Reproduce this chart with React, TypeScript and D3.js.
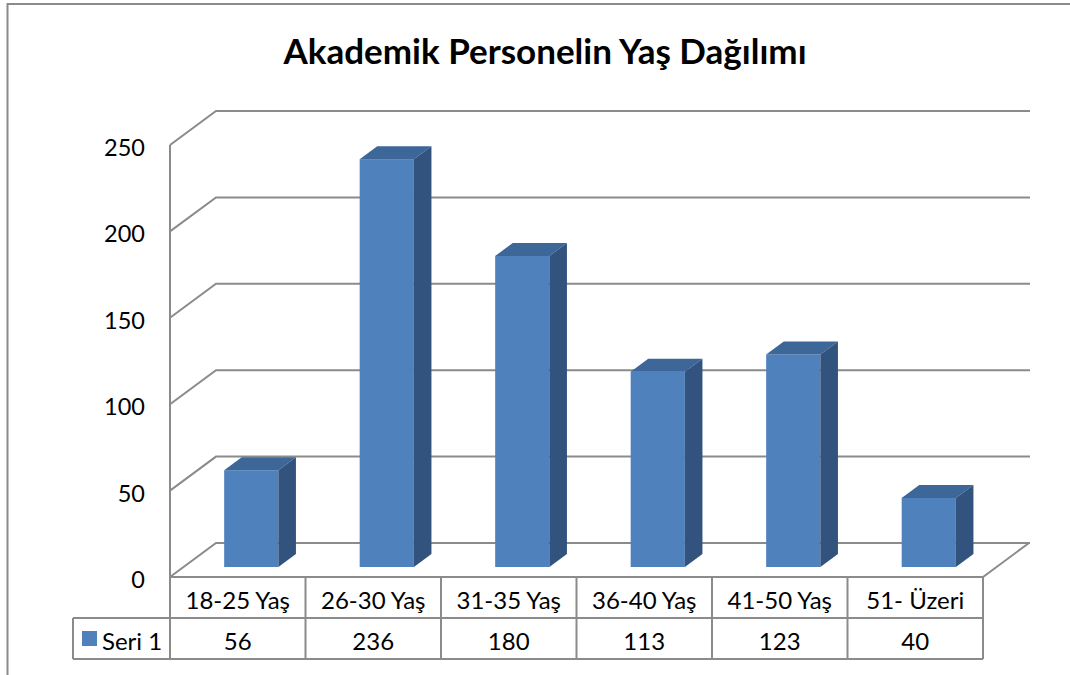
import React from 'react';
import * as d3 from 'd3';

const title = 'Akademik Personelin Yaş Dağılımı';
const categories = ['18-25 Yaş', '26-30 Yaş', '31-35 Yaş', '36-40 Yaş', '41-50 Yaş', '51- Üzeri'];
const seriesName = 'Seri 1';
const values = [56, 236, 180, 113, 123, 40];
const yTicks = [0, 50, 100, 150, 200, 250];

const W = 1070;
const H = 675;
const font = 'Lato, "Open Sans", sans-serif';
const gridColor = '#8b8b8b';

// oblique 3D depth offset of the plot box
const DX = 46;
const DY = 34;
const zFront = 0.294;
const zBack = 0.676;

export default function App() {
    const left = 170;
    const right = 983;
    const floorY = 577;
    const topY = 145;

    const x = d3.scaleBand<string>().domain(categories).range([left, right]).paddingInner(0.6).paddingOuter(0.3);
    const cols = d3.scaleBand<string>().domain(categories).range([left, right]);
    const y = d3.scaleLinear().domain([0, 250]).range([floorY, topY]);

    const bw = x.bandwidth();
    const dbx = (zBack - zFront) * DX;
    const dby = (zBack - zFront) * DY;

    const rowTop = floorY;
    const rowMid = 618;
    const rowBot = 659;
    const legendLeft = 73;

    return (
        <svg width={W} height={H} style={{ position: 'absolute', left: 0, top: 0 }} fontFamily={font}>
            <rect x={0} y={0} width={W} height={H} fill="#fff" />
            <rect x={7.5} y={4} width={W + 20} height={H + 20} fill="none" stroke={gridColor} strokeWidth={2} />
            <text x={545} y={50} textAnchor="middle" dominantBaseline="central" fontSize={35} fontWeight="bold" fill="#000">
                {title}
            </text>

            {/* walls & gridlines */}
            {yTicks.map(t => {
                const yf = y(t);
                return (
                    <path key={t} d={`M${left},${yf}L${left + DX},${yf - DY}L${1030},${yf - DY}`}
                        fill="none" stroke={gridColor} strokeWidth={2} />
                );
            })}
            <path d={`M${left},${topY}L${left},${rowBot}`} stroke={gridColor} strokeWidth={2} fill="none" />
            <path d={`M${left},${floorY}L${right},${floorY}L${right + DX},${floorY - DY}`} stroke={gridColor} strokeWidth={2} fill="none" />

            {yTicks.map(t => (
                <text key={t} x={145} y={y(t) + 2} textAnchor="end" dominantBaseline="central" fontSize={23.5} fill="#000">{t}</text>
            ))}

            {/* bars */}
            {categories.map((c, i) => {
                const x0 = (x(c) as number) + zFront * DX;
                const x1 = x0 + bw;
                const yt = y(values[i]) - zFront * DY;
                const yb = y(0) - zFront * DY;
                return (
                    <g key={c}>
                        <rect x={x0} y={yt} width={bw} height={yb - yt} fill="#4f81bd" />
                        <polygon points={`${x0},${yt} ${x1},${yt} ${x1 + dbx},${yt - dby} ${x0 + dbx},${yt - dby}`} fill="#3d6699" />
                        <polygon points={`${x1},${yt} ${x1 + dbx},${yt - dby} ${x1 + dbx},${yb - dby} ${x1},${yb}`} fill="#32537e" />
                    </g>
                );
            })}

            {/* data table */}
            <g stroke={gridColor} strokeWidth={2} fill="none">
                <path d={`M${left},${rowMid}L${right},${rowMid}M${legendLeft},${rowBot}L${right},${rowBot}`} />
                <path d={`M${legendLeft},${rowMid}L${left},${rowMid}M${legendLeft},${rowMid}L${legendLeft},${rowBot}`} />
                {categories.map(c => {
                    const cx = (cols(c) as number) + cols.bandwidth();
                    return <path key={c} d={`M${cx},${rowTop}L${cx},${rowBot}`} />;
                })}
            </g>
            {categories.map((c, i) => {
                const cx = (cols(c) as number) + cols.bandwidth() / 2;
                return (
                    <g key={c} fontSize={24} fill="#000" textAnchor="middle">
                        <text x={cx} y={(rowTop + rowMid) / 2 + 2} dominantBaseline="central">{c}</text>
                        <text x={cx} y={(rowMid + rowBot) / 2 + 2} dominantBaseline="central">{values[i]}</text>
                    </g>
                );
            })}
            <rect x={82} y={631} width={15} height={15} fill="#4f81bd" />
            <text x={102} y={(rowMid + rowBot) / 2 + 2} dominantBaseline="central" fontSize={24} fill="#000">{seriesName}</text>
        </svg>
    );
}
